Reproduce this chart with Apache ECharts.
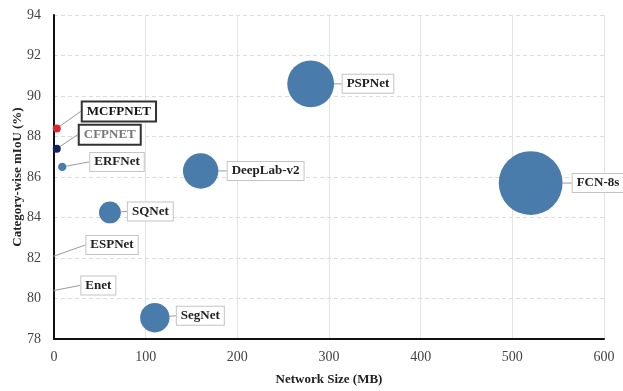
<!DOCTYPE html>
<html>
<head>
<meta charset="utf-8">
<script src="https://cdn.jsdelivr.net/npm/echarts@6/dist/echarts.min.js"></script>
<style>html,body{margin:0;padding:0;background:#fff}#c{width:623px;height:391px}</style>
</head>
<body>
<div id="c"></div>
<script>
// ---- data ----
const models   = ['MCFPNET','CFPNET','ERFNet','ESPNet','Enet','SQNet','SegNet','DeepLab-v2','PSPNet','FCN-8s'];
const sizeMB   = [3, 3, 9, 0.4, 0.4, 61, 110, 160, 280, 520];
const mIoU     = [88.4, 87.4, 86.5, 82.1, 80.4, 84.25, 79.05, 86.3, 90.6, 85.7];
const xTicks   = [0, 100, 200, 300, 400, 500, 600];
const yTicks   = [78, 80, 82, 84, 86, 88, 90, 92, 94];

// ---- presentation (not data) ----
const pointColors = {MCFPNET:'#d8262e', CFPNET:'#14225e'};
const labelOffsets = { // [dx from centre to label left, dy]
  'MCFPNET':[26,-17], 'CFPNET':[23,-14], 'ERFNet':[28,-5], 'ESPNet':[32,-11],
  'Enet':[27,-5], 'SQNet':[18,-1], 'SegNet':[22,-2], 'DeepLab-v2':[27,0],
  'PSPNet':[32,0], 'FCN-8s':[42,0]
};
const serif = '"Liberation Serif","DejaVu Serif",serif';

const data = models.map((m, i) => {
  const d = {name: m, value: [sizeMB[i], mIoU[i], sizeMB[i]]};
  if (pointColors[m]) d.itemStyle = {color: pointColors[m]};
  if (m === 'MCFPNET') d.label = {borderColor:'#333', borderWidth:2, color:'#111'};
  if (m === 'CFPNET')  d.label = {borderColor:'#333', borderWidth:2, color:'#777'};
  return d;
});

const chart = echarts.init(document.getElementById('c'), null, {renderer:'canvas'});
chart.setOption({
  animation:false,
  backgroundColor:'#fff',
  grid:{left:54, right:19, top:15, bottom:52, containLabel:false, outerBoundsMode:'none'},
  xAxis:{
    type:'value', min:xTicks[0], max:xTicks[xTicks.length-1], interval:100,
    name:'Network Size (MB)', nameLocation:'middle', nameGap:34, nameMoveOverlap:false,
    nameTextStyle:{fontFamily:serif, fontWeight:'bold', fontSize:13, color:'#222'},
    axisLine:{show:true, lineStyle:{color:'#111', width:2}},
    axisTick:{show:false},
    axisLabel:{fontFamily:serif, fontSize:14, color:'#444', margin:11},
    splitLine:{show:true, lineStyle:{color:'#e2e2e2', width:1}}
  },
  yAxis:{
    type:'value', min:yTicks[0], max:yTicks[yTicks.length-1], interval:2,
    name:'Category-wise mIoU (%)', nameLocation:'middle', nameGap:30, nameMoveOverlap:false,
    nameTextStyle:{fontFamily:serif, fontWeight:'bold', fontSize:13, color:'#222'},
    axisLine:{show:true, lineStyle:{color:'#111', width:2}},
    axisTick:{show:false},
    axisLabel:{fontFamily:serif, fontSize:14, color:'#444', margin:13},
    splitLine:{show:true, lineStyle:{color:'#dcdcdc', width:1, type:[4,3]}}
  },
  series:[{
    type:'scatter',
    data:data,
    symbolSize:function(v){ const s = 2.8*Math.sqrt(v[2]); return v[2] >= 1 ? Math.max(s, 8) : Math.max(s, 1.5); },
    itemStyle:{color:'#4a7cab', opacity:1},
    label:{
      show:true, position:'right', formatter:'{b}',
      fontFamily:serif, fontSize:13, fontWeight:'bold', color:'#222',
      backgroundColor:'#fff', borderColor:'#c4c4c4', borderWidth:1, padding:[3,4,2,4]
    },
    labelLine:{show:true, lineStyle:{color:'#9a9a9a', width:1}},
    labelLayout:function(p){
      const name = models[p.dataIndex];
      const o = labelOffsets[name];
      const cx = p.rect.x + p.rect.width/2, cy = p.rect.y + p.rect.height/2;
      return {x: cx + o[0], y: cy + o[1], align:'left', verticalAlign:'middle'};
    }
  }]
});
</script>
</body>
</html>
